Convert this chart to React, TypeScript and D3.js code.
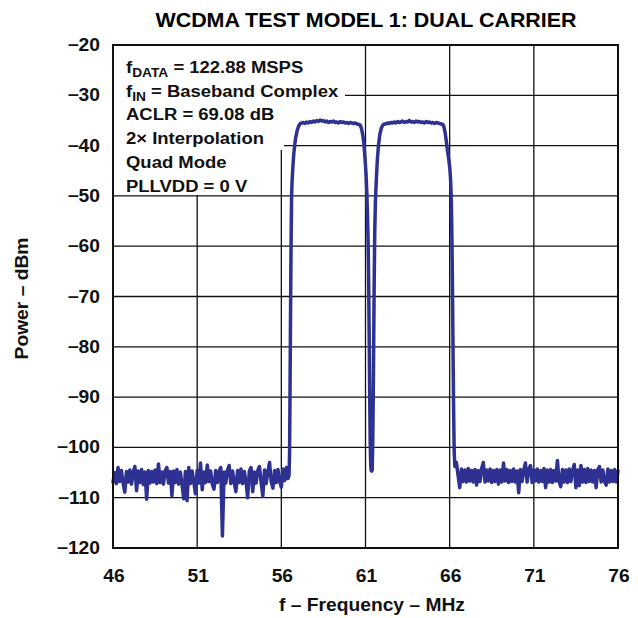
import React from 'react';
import * as d3 from 'd3';

// axis ticks
const xTicks = [46, 51, 56, 61, 66, 71, 76];
const yTicks = [-20, -30, -40, -50, -60, -70, -80, -90, -100, -110, -120];

// analyzer sweep spacing for the evenly sampled parts of the trace
const sweepStep = 0.1;

// noise floor below the first carrier (46.0 .. 56.4 MHz)
const floorLowStart = 46.0;
const floorLowDbm = [
  -106.9, -105.0, -107.2, -104.0, -106.8, -104.6, -107.1, -108.9, -104.8, -106.9,
  -104.5, -107.3, -104.9, -103.8, -108.6, -104.7, -107.0, -104.4, -107.4, -104.9,
  -110.3, -104.6, -107.1, -104.8, -106.9, -104.5, -107.2, -103.3, -107.0, -104.9,
  -107.3, -104.6, -104.0, -107.1, -104.8, -109.6, -104.7, -107.0, -104.4, -107.3,
  -104.9, -107.4, -110.2, -104.8, -110.6, -104.0, -107.2, -104.7, -106.9, -109.2,
  -104.6, -107.1, -103.1, -108.4, -104.9, -107.0, -103.5, -106.8, -104.7, -107.3,
  -108.3, -104.6, -107.0, -104.8, -104.0, -117.6, -104.9, -107.1, -104.5, -103.6,
  -107.2, -104.7, -106.9, -108.8, -104.6, -107.0, -104.3, -107.2, -104.8, -106.8,
  -110.0, -104.7, -104.0, -108.8, -104.9, -107.1, -104.6, -103.8, -107.0, -109.7,
  -104.5, -107.2, -104.8, -103.0, -106.9, -108.1, -104.6, -107.0, -104.4, -106.8,
  -107.9, -104.3, -106.6, -104.0, -106.2,
];

// carrier 1 edges and top
const c1RiseMHz = [56.46, 56.49, 56.51, 56.53, 56.55, 56.57, 56.59, 56.61, 56.64, 56.68, 56.73, 56.79, 56.86, 56.94, 57.03, 57.13, 57.22];
const c1RiseDbm = [-105.5, -101, -92, -82, -72, -63, -56, -50, -47, -44.5, -42, -40, -38.3, -37, -36.1, -35.6, -35.5];
const c1TopStart = 57.3;
const c1TopDbm = [
  -35.4, -35.6, -35.3, -35.5, -35.2, -35.4, -35.1, -35.3, -35.0, -35.2,
  -34.9, -35.1, -35.0, -35.3, -35.1, -35.4, -35.2, -35.3, -35.1, -35.4,
  -35.3, -35.5, -35.2, -35.4, -35.3, -35.5, -35.4, -35.6, -35.4, -35.5,
  -35.6, -35.5, -35.7, -35.8,
];
const c1FallMHz = [60.68, 60.76, 60.84, 60.91, 60.97, 61.03, 61.08, 61.12, 61.16, 61.19, 61.22, 61.25, 61.28, 61.31, 61.34];
const c1FallDbm = [-35.9, -36.6, -37.9, -39.8, -42.5, -45.5, -49.5, -54, -60, -68, -78, -90, -99, -103.5, -104.6];

// notch between the carriers
const notchMHz = [61.37, 61.40];
const notchDbm = [-104.7, -104.5];

// carrier 2 edges and top
const c2RiseMHz = [61.43, 61.46, 61.49, 61.52, 61.55, 61.59, 61.64, 61.70, 61.77, 61.85, 61.94, 62.04, 62.12];
const c2RiseDbm = [-99, -90, -78, -66, -57, -51, -47, -43, -40, -37.8, -36.5, -35.9, -35.7];
const c2TopStart = 62.2;
const c2TopDbm = [
  -35.7, -35.5, -35.6, -35.4, -35.5, -35.3, -35.5, -35.2, -35.4, -35.3,
  -35.1, -35.4, -35.2, -35.3, -35.0, -35.3, -35.2, -35.4, -35.1, -35.3,
  -35.2, -35.4, -35.3, -35.5, -35.2, -35.4, -35.3, -35.5, -35.4, -35.6,
  -35.4, -35.5, -35.6, -35.7,
];
const c2FallMHz = [65.6, 65.66, 65.73, 65.80, 65.87, 65.94, 66.0, 66.05, 66.09, 66.12, 66.15, 66.18, 66.21, 66.24, 66.27, 66.31];
const c2FallDbm = [-35.8, -36.3, -37.4, -39.1, -41.0, -42.6, -44.2, -46.5, -50, -55, -63, -73, -84, -94, -101, -103.8];

// noise floor above the second carrier (66.4 .. 76.0 MHz)
const floorHighStart = 66.4;
const floorHighDbm = [
  -103.0, -105.6, -108.0, -104.3, -106.8, -104.5, -106.9, -104.2, -106.7, -104.6,
  -106.9, -104.4, -107.5, -104.6, -106.8, -104.2, -103.0, -106.9, -104.5, -106.7,
  -104.3, -107.0, -104.6, -106.8, -104.4, -107.3, -104.5, -106.9, -103.1, -106.7,
  -104.4, -107.0, -104.6, -106.8, -104.3, -106.9, -104.7, -109.0, -104.4, -106.8,
  -104.5, -103.1, -106.9, -104.4, -103.6, -107.0, -104.5, -106.7, -104.3, -106.9,
  -104.6, -106.8, -104.2, -108.0, -104.5, -106.9, -104.4, -107.0, -104.6, -106.7,
  -102.6, -106.8, -107.8, -104.4, -106.9, -104.5, -107.0, -104.3, -106.8, -104.6,
  -103.4, -108.0, -104.5, -107.6, -103.6, -106.9, -104.4, -107.0, -104.2, -106.8,
  -104.5, -106.9, -104.6, -108.0, -104.4, -103.8, -106.9, -104.5, -106.8, -107.5,
  -104.3, -106.9, -104.6, -106.8, -104.4, -106.9, -104.7,
];

const legendLines = [
  { main: 'f', sub: 'DATA', rest: ' = 122.88 MSPS' },
  { main: 'f', sub: 'IN', rest: ' = Baseband Complex' },
  { main: 'ACLR = 69.08 dB', sub: '', rest: '' },
  { main: '2\u00d7 Interpolation', sub: '', rest: '' },
  { main: 'Quad Mode', sub: '', rest: '' },
  { main: 'PLLVDD = 0 V', sub: '', rest: '' },
];

const W = 638;
const H = 618;
const left = 113;
const right = 618;
const top = 45;
const bottom = 548;
const FONT = '"Liberation Sans", Arial, Helvetica, sans-serif';
const STRETCH = 1.1;
const TRACE = '#2e3192';

const swept = (start: number, vals: number[]) => vals.map((v, i) => [start + i * sweepStep, v]);
const paired = (fs: number[], vals: number[]) => fs.map((f, i) => [f, vals[i]]);

function App() {
  const x = d3.scaleLinear().domain([46, 76]).range([left, right]);
  const y = d3.scaleLinear().domain([-120, -20]).range([bottom, top]);

  const trace = [
    ...swept(floorLowStart, floorLowDbm),
    ...paired(c1RiseMHz, c1RiseDbm),
    ...swept(c1TopStart, c1TopDbm),
    ...paired(c1FallMHz, c1FallDbm),
    ...paired(notchMHz, notchDbm),
    ...paired(c2RiseMHz, c2RiseDbm),
    ...swept(c2TopStart, c2TopDbm),
    ...paired(c2FallMHz, c2FallDbm),
    ...swept(floorHighStart, floorHighDbm),
  ];

  const line = d3.line<number[]>()
    .x((d) => x(d[0]))
    .y((d) => y(d[1]));

  const lineY = (i: number) => 73 + i * 23.7;

  return (
    <svg width={W} height={H} style={{ position: 'absolute', left: 0, top: 0, background: '#fff' }}
      fontFamily={FONT} fontWeight="bold">
      <rect x={0} y={0} width={W} height={H} fill="#fff" />

      <g transform={`translate(366,27) scale(${STRETCH},1)`}>
        <text textAnchor="middle" fontSize={19.5} fill="#000">WCDMA TEST MODEL 1: DUAL CARRIER</text>
      </g>

      {/* grid */}
      {xTicks.map((t) => (
        <line key={'gx' + t} x1={x(t)} x2={x(t)} y1={top} y2={bottom} stroke="#111" strokeWidth={1.3} />
      ))}
      {yTicks.map((t) => (
        <line key={'gy' + t} x1={left} x2={right} y1={y(t)} y2={y(t)} stroke="#111" strokeWidth={1.3} />
      ))}

      {/* legend box hides the grid behind the text */}
      <rect x={left + 1} y={top + 1} width={231} height={55} fill="#fff" />
      <rect x={left + 1} y={99} width={170} height={51} fill="#fff" />
      <rect x={left + 1} y={149} width={157} height={46} fill="#fff" />
      {legendLines.map((l, i) => (
        <g key={'lg' + i} transform={`translate(126,${lineY(i)}) scale(${STRETCH},1)`}>
          <text fontSize={16.8} fill="#111">
            {l.main}
            {l.sub ? <tspan fontSize={12.5} dy={4}>{l.sub}</tspan> : null}
            {l.rest ? <tspan dy={l.sub ? -4 : 0}>{l.rest}</tspan> : null}
          </text>
        </g>
      ))}

      <path d={line(trace) || ''} fill="none" stroke={TRACE} strokeWidth={3.5}
        strokeLinejoin="round" strokeLinecap="round" />

      <rect x={left} y={top} width={right - left} height={bottom - top} fill="none" stroke="#111" strokeWidth={2} />

      {/* tick labels */}
      {yTicks.map((t) => (
        <g key={'ty' + t} transform={`translate(100,${y(t) + 6}) scale(${STRETCH},1)`}>
          <text textAnchor="end" fontSize={17.5} fill="#111">{'\u2212' + Math.abs(t)}</text>
        </g>
      ))}
      {xTicks.map((t) => (
        <g key={'tx' + t} transform={`translate(${x(t) + 1},582) scale(${STRETCH},1)`}>
          <text textAnchor="middle" fontSize={17.5} fill="#111">{t}</text>
        </g>
      ))}

      <g transform={`translate(372,611) scale(${STRETCH},1)`}>
        <text textAnchor="middle" fontSize={17.5} fill="#111">f – Frequency – MHz</text>
      </g>
      <g transform={`translate(28,${(top + bottom) / 2 + 2}) rotate(-90) scale(${STRETCH},1)`}>
        <text textAnchor="middle" fontSize={17.5} fill="#111">Power – dBm</text>
      </g>
    </svg>
  );
}

export default App;
